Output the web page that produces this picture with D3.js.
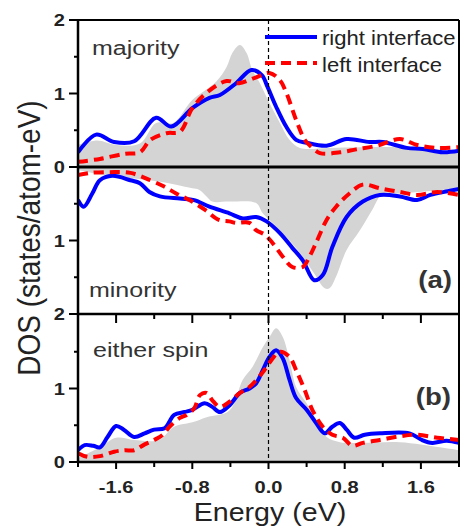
<!DOCTYPE html>
<html>
<head>
<meta charset="utf-8">
<script src="https://cdn.jsdelivr.net/npm/d3@7"></script>
<style>
  body { margin: 0; background: #fff; }
  text { font-family: "Liberation Sans", Arial, sans-serif; }
</style>
</head>
<body>
<div id="app"></div>
<script>
// energy (eV), DOS values
var majRight = [[-2.0,0.2],[-1.81,0.44],[-1.62,0.34],[-1.41,0.35],[-1.18,0.67],[-1.02,0.55],[-0.8,0.8],[-0.62,0.94],[-0.51,0.98],[-0.34,1.14],[-0.18,1.32],[-0.07,1.25],[-0.01,1.09],[0.08,0.82],[0.19,0.54],[0.29,0.37],[0.4,0.33],[0.61,0.29],[0.82,0.38],[1.06,0.34],[1.2,0.34],[1.45,0.26],[1.62,0.245],[1.83,0.2],[2.0,0.22]]
var majLeft = [[-2.0,0.07],[-1.77,0.11],[-1.51,0.18],[-1.35,0.2],[-1.24,0.37],[-1.07,0.46],[-0.93,0.48],[-0.8,0.8],[-0.64,1.02],[-0.44,1.17],[-0.31,1.14],[-0.13,1.22],[0.01,1.28],[0.12,1.18],[0.19,1.0],[0.29,0.64],[0.38,0.37],[0.43,0.3],[0.54,0.19],[0.75,0.2],[0.92,0.24],[1.14,0.29],[1.38,0.38],[1.56,0.3],[1.77,0.26],[2.0,0.27]]
var majBulk = [[-2.0,0.3],[-1.8,0.36],[-1.6,0.3],[-1.35,0.32],[-1.18,0.6],[-1.0,0.6],[-0.8,0.91],[-0.55,1.16],[-0.44,1.36],[-0.38,1.55],[-0.3,1.66],[-0.23,1.55],[-0.17,1.32],[-0.09,1.14],[0.01,0.87],[0.12,0.6],[0.22,0.37],[0.33,0.26],[0.64,0.26],[0.96,0.27],[1.38,0.27],[1.8,0.23],[2.0,0.2]]

var minRight = [[-2.0,0.45],[-1.94,0.54],[-1.85,0.36],[-1.77,0.18],[-1.64,0.12],[-1.45,0.18],[-1.35,0.22],[-1.25,0.34],[-1.14,0.4],[-0.93,0.43],[-0.78,0.45],[-0.62,0.54],[-0.41,0.63],[-0.27,0.7],[-0.13,0.68],[-0.02,0.74],[0.12,0.9],[0.25,1.1],[0.36,1.27],[0.48,1.54],[0.57,1.47],[0.67,1.09],[0.82,0.68],[0.99,0.47],[1.17,0.38],[1.38,0.4],[1.56,0.45],[1.7,0.38],[1.88,0.33],[2.0,0.3]]
var minLeft = [[-2.0,0.11],[-1.87,0.08],[-1.67,0.07],[-1.45,0.08],[-1.24,0.18],[-1.09,0.27],[-0.97,0.36],[-0.83,0.45],[-0.67,0.58],[-0.52,0.72],[-0.41,0.74],[-0.34,0.76],[-0.2,0.76],[-0.13,0.86],[-0.04,0.92],[0.04,1.03],[0.15,1.22],[0.25,1.36],[0.36,1.36],[0.43,1.22],[0.5,1.03],[0.61,0.72],[0.71,0.54],[0.85,0.36],[0.99,0.24],[1.17,0.29],[1.38,0.34],[1.56,0.38],[1.77,0.34],[2.0,0.38]]
var minBulk = [[-2.0,0.04],[-1.85,0.08],[-1.6,0.13],[-1.25,0.18],[-0.97,0.24],[-0.8,0.29],[-0.73,0.31],[-0.65,0.4],[-0.59,0.47],[-0.41,0.47],[-0.13,0.49],[-0.06,0.63],[0.08,0.81],[0.22,1.0],[0.36,1.22],[0.48,1.45],[0.59,1.65],[0.64,1.65],[0.71,1.49],[0.82,1.13],[0.96,0.86],[1.09,0.58],[1.2,0.36],[1.38,0.36],[2.0,0.29]]

var bothRight = [[-2.0,0.16],[-1.93,0.23],[-1.84,0.22],[-1.77,0.2],[-1.69,0.34],[-1.6,0.49],[-1.52,0.44],[-1.41,0.34],[-1.3,0.39],[-1.2,0.44],[-1.09,0.46],[-0.99,0.64],[-0.88,0.68],[-0.8,0.71],[-0.67,0.8],[-0.59,0.75],[-0.51,0.68],[-0.41,0.77],[-0.3,0.94],[-0.2,1.0],[-0.13,1.07],[-0.06,1.25],[0.01,1.43],[0.08,1.52],[0.15,1.41],[0.22,1.12],[0.29,0.87],[0.4,0.71],[0.5,0.53],[0.59,0.39],[0.67,0.48],[0.75,0.53],[0.82,0.44],[0.9,0.33],[1.01,0.37],[1.17,0.39],[1.48,0.39],[1.61,0.3],[1.72,0.26],[1.87,0.29],[2.0,0.26]]
var bothLeft = [[-2.0,0.12],[-1.9,0.07],[-1.77,0.08],[-1.62,0.14],[-1.51,0.16],[-1.41,0.16],[-1.3,0.24],[-1.2,0.3],[-1.11,0.37],[-1.04,0.48],[-0.93,0.6],[-0.86,0.64],[-0.78,0.73],[-0.72,0.91],[-0.65,0.94],[-0.59,0.84],[-0.51,0.75],[-0.41,0.82],[-0.3,0.94],[-0.2,1.02],[-0.06,1.22],[0.01,1.35],[0.12,1.5],[0.22,1.43],[0.29,1.25],[0.38,0.98],[0.46,0.71],[0.57,0.48],[0.67,0.37],[0.78,0.33],[0.88,0.22],[0.99,0.26],[1.17,0.3],[1.38,0.35],[1.56,0.37],[1.77,0.33],[2.0,0.3]]
var bothBulk = [[-2.0,0.05],[-1.77,0.2],[-1.6,0.33],[-1.41,0.3],[-1.15,0.3],[-0.99,0.48],[-0.8,0.54],[-0.65,0.61],[-0.41,0.7],[-0.27,1.12],[-0.17,1.29],[-0.06,1.56],[0.01,1.7],[0.08,1.82],[0.15,1.7],[0.22,1.39],[0.29,1.02],[0.4,0.8],[0.5,0.57],[0.61,0.34],[0.75,0.27],[0.96,0.26],[1.38,0.27],[1.8,0.2],[2.0,0.16]]

var xTicks = [-2.0,-1.6,-1.2,-0.8,-0.4,0.0,0.4,0.8,1.2,1.6,2.0]
var xLabels = [-1.6,-0.8,0.0,0.8,1.6]
var legendNames = ['right interface', 'left interface']
var panelNames = ['majority', 'minority', 'either spin']

var W = 460, H = 527
var left = 78, right = 459

var svg = d3.select('#app').append('svg')
	.attr('width', W).attr('height', H)

var x = d3.scaleLinear().domain([-2, 2]).range([left, right])
var yMaj = d3.scaleLinear().domain([0, 2]).range([167, 20])
var yMin = d3.scaleLinear().domain([0, 2]).range([167, 314])
var yB = d3.scaleLinear().domain([0, 2]).range([462, 315])

svg.append('clipPath').attr('id', 'clipA')
	.append('rect').attr('x', left).attr('y', 20).attr('width', right - left).attr('height', 294)
svg.append('clipPath').attr('id', 'clipB')
	.append('rect').attr('x', left).attr('y', 314).attr('width', right - left).attr('height', 148)

var gA = svg.append('g').attr('clip-path', 'url(#clipA)')
var gB = svg.append('g').attr('clip-path', 'url(#clipB)')

function drawPanel(g, y, bulk, rightS, leftS) {
	var curve = d3.curveCatmullRom.alpha(0.5)
	g.append('path').datum(bulk)
		.attr('fill', '#d4d4d4')
		.attr('d', d3.area().curve(curve)
			.x(function(d) { return x(d[0]) })
			.y0(y(0))
			.y1(function(d) { return y(d[1]) }))
	var line = d3.line().curve(curve)
		.x(function(d) { return x(d[0]) })
		.y(function(d) { return y(d[1]) })
	g.append('path').datum(rightS)
		.attr('fill', 'none').attr('stroke', '#0000ff').attr('stroke-width', 4)
		.attr('d', line)
	g.append('path').datum(leftS)
		.attr('fill', 'none').attr('stroke', '#ff0000').attr('stroke-width', 4)
		.attr('stroke-dasharray', '10,6')
		.attr('d', line)
}

drawPanel(gA, yMaj, majBulk, majRight, majLeft)
drawPanel(gA, yMin, minBulk, minRight, minLeft)
drawPanel(gB, yB, bothBulk, bothRight, bothLeft)

// Fermi level
svg.append('line')
	.attr('x1', x(0)).attr('x2', x(0)).attr('y1', 20).attr('y2', 462)
	.attr('stroke', '#000').attr('stroke-width', 1.2).attr('stroke-dasharray', '4,3')

// frame
function hline(yy, w) {
	svg.append('line').attr('x1', left).attr('x2', right).attr('y1', yy).attr('y2', yy)
		.attr('stroke', '#000').attr('stroke-width', w)
}
hline(20, 2)
hline(167, 3)
hline(314, 2.5)
hline(462, 2.5)
svg.append('line').attr('x1', right).attr('x2', right).attr('y1', 20).attr('y2', 462)
	.attr('stroke', '#000').attr('stroke-width', 2)

function txt(px, py, s, size, weight, anchor, sx, fill) {
	svg.append('text')
		.attr('transform', 'translate(' + px + ',' + py + ') scale(' + sx + ',1)')
		.attr('text-anchor', anchor)
		.style('font-size', size + 'px')
		.style('font-weight', weight)
		.attr('fill', fill || '#222')
		.text(s)
}

// y axes
function yAxis(scale, vals, labeled) {
	var g = svg.append('g').attr('transform', 'translate(' + left + ',0)')
	var ax = d3.axisLeft(scale).tickValues(vals)
		.tickSize(0).tickFormat('')
	g.call(ax)
	g.select('.domain').remove()
	g.selectAll('.tk').data(vals).enter().append('line')
		.attr('x1', function(d) { return d % 1 === 0 ? -9 : -4 })
		.attr('x2', 1)
		.attr('y1', function(d) { return scale(d) })
		.attr('y2', function(d) { return scale(d) })
		.attr('stroke', '#000').attr('stroke-width', 2)
	labeled.forEach(function(v) {
		txt(left - 13, scale(v) + 6, d3.format('d')(v), 17, 'bold', 'end', 1.18)
	})
}
yAxis(yMaj, [0, 0.5, 1, 1.5, 2], [0, 1, 2])
yAxis(yMin, [0.5, 1, 1.5, 2], [1, 2])
yAxis(yB, [0, 0.5, 1, 1.5], [0, 1])
svg.append('line').attr('x1', left).attr('x2', left).attr('y1', 19).attr('y2', 463)
	.attr('stroke', '#000').attr('stroke-width', 2.5)

// x ticks: on separator (inward, down) and on bottom (outward, down)
var isMajor = function(d) { return Math.abs(Math.round(d / 0.8) * 0.8 - d) < 1e-6 }
var xt = d3.axisBottom(x).tickValues(xTicks).tickSize(0).tickFormat('')
svg.append('g').attr('transform', 'translate(0,462)').call(xt).select('.domain').remove()
svg.selectAll('.xt1').data(xTicks).enter().append('line')
	.attr('x1', function(d) { return x(d) }).attr('x2', function(d) { return x(d) })
	.attr('y1', 314).attr('y2', function(d) { return isMajor(d) ? 323 : 319 })
	.attr('stroke', '#000').attr('stroke-width', 2)
svg.selectAll('.xt2').data(xTicks).enter().append('line')
	.attr('x1', function(d) { return x(d) }).attr('x2', function(d) { return x(d) })
	.attr('y1', 462).attr('y2', function(d) { return isMajor(d) ? 469 : 467 })
	.attr('stroke', '#000').attr('stroke-width', 2)
xLabels.forEach(function(v) {
	txt(x(v), 493, d3.format('.1f')(v).replace('−', '-'), 17, 'bold', 'middle', 1.18)
})

// axis titles
txt(270, 521, 'Energy (eV)', 26, 'normal', 'middle', 1.1, '#222')
svg.append('text')
	.attr('transform', 'translate(40,238) rotate(-90) scale(1,1.15)')
	.attr('text-anchor', 'middle')
	.style('font-size', '28px')
	.attr('fill', '#222')
	.text('DOS (states/atom-eV)')

// panel labels
txt(92, 55, panelNames[0], 20, 'normal', 'start', 1.25, '#333')
txt(89, 297, panelNames[1], 20, 'normal', 'start', 1.25, '#333')
txt(93, 357, panelNames[2], 20, 'normal', 'start', 1.25, '#333')
txt(452, 288, '(a)', 23, 'bold', 'end', 1.2, '#333')
txt(451, 405, '(b)', 23, 'bold', 'end', 1.2, '#333')

// legend
svg.append('line').attr('x1', 265).attr('x2', 317).attr('y1', 37).attr('y2', 37)
	.attr('stroke', '#0000ff').attr('stroke-width', 4)
svg.append('line').attr('x1', 265).attr('x2', 317).attr('y1', 63).attr('y2', 63)
	.attr('stroke', '#ff0000').attr('stroke-width', 4).attr('stroke-dasharray', '10,6')
txt(322, 45, legendNames[0], 21, 'normal', 'start', 1.05, '#222')
txt(322, 72, legendNames[1], 21, 'normal', 'start', 1.05, '#222')
</script>
</body>
</html>
